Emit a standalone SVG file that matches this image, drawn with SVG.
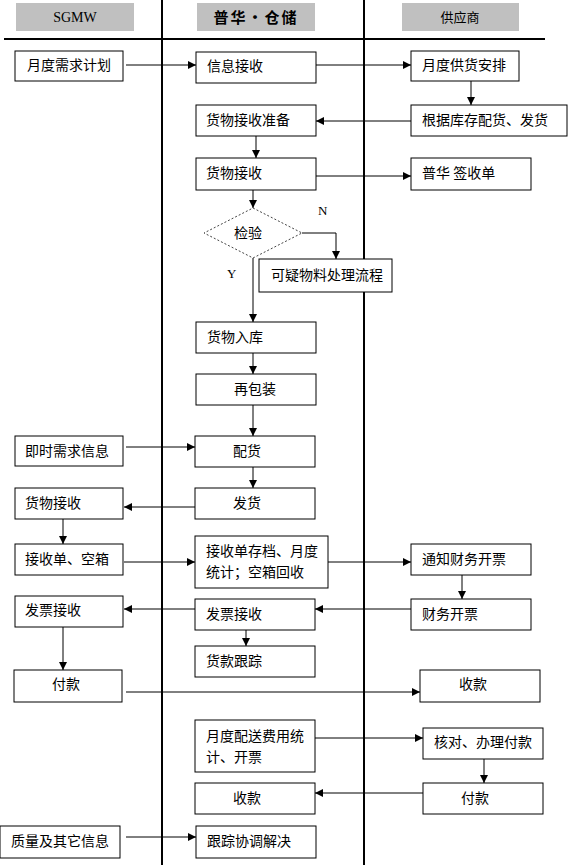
<svg xmlns="http://www.w3.org/2000/svg" width="568" height="868" viewBox="0 0 568 868">
<style>
.bg{fill:#ffffff}
.hdr{fill:#c0c0c0;stroke:none}
.lane{stroke:#000;stroke-width:2;fill:none}
.box{fill:#fff;stroke:#000;stroke-width:1}
.dia{fill:#fff;stroke:#444;stroke-width:1;stroke-dasharray:2,2}
.t{font-family:"Noto Sans CJK SC","Liberation Sans",sans-serif;font-size:14px;fill:#000}
.c{text-anchor:middle}
.s{font-family:"Liberation Serif",serif;font-size:13px;fill:#000}
.ln{stroke:#000;stroke-width:1;fill:none}
</style>
<defs>
<marker id="ah" viewBox="0 0 8 8" refX="8" refY="4" markerWidth="8" markerHeight="8" markerUnits="userSpaceOnUse" orient="auto">
<path d="M0,0 L8,4 L0,8 z" fill="#000"/>
</marker>
</defs>
<rect class="bg" x="0" y="0" width="568" height="868"/>

<g id="lanes">
<rect class="hdr" x="16" y="3" width="118" height="28"/>
<text class="s c" x="75" y="22" fill="#333" style="font-size:14px">SGMW</text>
<rect class="hdr" x="197" y="3" width="118" height="28"/>
<text class="t c" x="256" y="23" style="font-size:15px;font-weight:bold;letter-spacing:2px">普华·仓储</text>
<rect class="hdr" x="402" y="3" width="117" height="28"/>
<text class="t c" x="460" y="22" style="font-size:13px">供应商</text>
<line class="lane" x1="4" y1="39" x2="545" y2="39"/>
<line class="lane" x1="162" y1="0" x2="162" y2="865"/>
<line class="lane" x1="364" y1="0" x2="364" y2="865"/>
</g>

<g id="connectors">
<line class="ln" x1="126" y1="65" x2="196" y2="65" marker-end="url(#ah)"/>
<line class="ln" x1="316" y1="65" x2="411" y2="65" marker-end="url(#ah)"/>
<line class="ln" x1="471" y1="81" x2="471" y2="105" marker-end="url(#ah)"/>
<line class="ln" x1="411" y1="121" x2="316" y2="121" marker-end="url(#ah)"/>
<line class="ln" x1="256" y1="136" x2="256" y2="158" marker-end="url(#ah)"/>
<line class="ln" x1="316" y1="176" x2="411" y2="176" marker-end="url(#ah)"/>
<line class="ln" x1="253" y1="190" x2="253" y2="208" marker-end="url(#ah)"/>
<polyline class="ln" points="302,233 336,233 336,259" marker-end="url(#ah)"/>
<line class="ln" x1="253" y1="258" x2="253" y2="322" marker-end="url(#ah)"/>
<line class="ln" x1="253" y1="353" x2="253" y2="374" marker-end="url(#ah)"/>
<line class="ln" x1="253" y1="405" x2="253" y2="436" marker-end="url(#ah)"/>
<line class="ln" x1="126" y1="447" x2="195" y2="447" marker-end="url(#ah)"/>
<line class="ln" x1="253" y1="467" x2="253" y2="488" marker-end="url(#ah)"/>
<line class="ln" x1="195" y1="507" x2="124" y2="507" marker-end="url(#ah)"/>
<line class="ln" x1="63" y1="519" x2="63" y2="544" marker-end="url(#ah)"/>
<line class="ln" x1="124" y1="562" x2="195" y2="562" marker-end="url(#ah)"/>
<line class="ln" x1="328" y1="562" x2="411" y2="562" marker-end="url(#ah)"/>
<line class="ln" x1="462" y1="575" x2="462" y2="599" marker-end="url(#ah)"/>
<line class="ln" x1="411" y1="609" x2="315" y2="609" marker-end="url(#ah)"/>
<line class="ln" x1="195" y1="609" x2="124" y2="609" marker-end="url(#ah)"/>
<line class="ln" x1="63" y1="627" x2="63" y2="670" marker-end="url(#ah)"/>
<line class="ln" x1="246" y1="630" x2="246" y2="646" marker-end="url(#ah)"/>
<line class="ln" x1="126" y1="692" x2="420" y2="692" marker-end="url(#ah)"/>
<line class="ln" x1="315" y1="738" x2="423" y2="738" marker-end="url(#ah)"/>
<line class="ln" x1="484" y1="759" x2="484" y2="783" marker-end="url(#ah)"/>
<line class="ln" x1="423" y1="793" x2="315" y2="793" marker-end="url(#ah)"/>
<line class="ln" x1="126" y1="837" x2="196" y2="837" marker-end="url(#ah)"/>
</g>

<g id="n_yuedu_xuqiu"><rect class="box" x="15" y="51" width="108" height="30"/><text class="t" x="27" y="70">月度需求计划</text></g>
<g id="n_xinxi_jieshou"><rect class="box" x="196" y="52" width="120" height="31"/><text class="t" x="207" y="71">信息接收</text></g>
<g id="n_yuedu_gonghuo"><rect class="box" x="411" y="51" width="108" height="30"/><text class="t" x="422" y="70">月度供货安排</text></g>
<g id="n_genju_kucun"><rect class="box" x="411" y="105" width="156" height="31"/><text class="t" x="422" y="125">根据库存配货、发货</text></g>
<g id="n_huowu_zhunbei"><rect class="box" x="196" y="105" width="120" height="31"/><text class="t" x="206" y="125">货物接收准备</text></g>
<g id="n_huowu_jieshou"><rect class="box" x="196" y="158" width="120" height="32"/><text class="t" x="206" y="178">货物接收</text></g>
<g id="n_puhua_qianshou"><rect class="box" x="411" y="158" width="120" height="32"/><text class="t" x="422" y="178">普华 签收单</text></g>
<g id="n_jianyan"><polygon class="dia" points="253,208 302,233 253,258 204,233"/><text class="t c" x="248" y="238">检验</text></g>
<g id="n_keyi"><rect class="box" x="259" y="259" width="133" height="33"/><text class="t" x="271" y="280">可疑物料处理流程</text></g>
<g id="lbl_N"><text class="s" x="318" y="215">N</text></g>
<g id="lbl_Y"><text class="s" x="227" y="278">Y</text></g>
<g id="n_ruku"><rect class="box" x="196" y="322" width="120" height="31"/><text class="t" x="207" y="342">货物入库</text></g>
<g id="n_baozhuang"><rect class="box" x="196" y="374" width="120" height="31"/><text class="t c" x="255" y="394">再包装</text></g>
<g id="n_jishi"><rect class="box" x="15" y="436" width="108" height="30"/><text class="t" x="25" y="456">即时需求信息</text></g>
<g id="n_peihuo"><rect class="box" x="195" y="436" width="120" height="31"/><text class="t c" x="247" y="456">配货</text></g>
<g id="n_fahuo"><rect class="box" x="195" y="488" width="120" height="31"/><text class="t c" x="247" y="508">发货</text></g>
<g id="n_sgmw_jieshou"><rect class="box" x="15" y="488" width="108" height="31"/><text class="t" x="25" y="508">货物接收</text></g>
<g id="n_jieshoudan"><rect class="box" x="15" y="544" width="108" height="31"/><text class="t" x="25" y="564">接收单、空箱</text></g>
<g id="n_cundang"><rect class="box" x="195" y="536" width="133" height="52"/><text class="t" x="206" y="556">接收单存档、月度</text><text class="t" x="206" y="577">统计；空箱回收</text></g>
<g id="n_tongzhi"><rect class="box" x="411" y="544" width="120" height="31"/><text class="t" x="422" y="564">通知财务开票</text></g>
<g id="n_caiwu"><rect class="box" x="411" y="599" width="120" height="31"/><text class="t" x="422" y="619">财务开票</text></g>
<g id="n_fapiao_c"><rect class="box" x="195" y="599" width="120" height="31"/><text class="t" x="206" y="619">发票接收</text></g>
<g id="n_fapiao_l"><rect class="box" x="15" y="596" width="108" height="31"/><text class="t" x="25" y="615">发票接收</text></g>
<g id="n_huokuan"><rect class="box" x="195" y="646" width="120" height="31"/><text class="t" x="206" y="666">货款跟踪</text></g>
<g id="n_fukuan_l"><rect class="box" x="14" y="670" width="108" height="32"/><text class="t c" x="66" y="689">付款</text></g>
<g id="n_shoukuan_r"><rect class="box" x="420" y="670" width="120" height="32"/><text class="t c" x="473" y="689">收款</text></g>
<g id="n_peisong"><rect class="box" x="195" y="720" width="120" height="52"/><text class="t" x="206" y="741">月度配送费用统</text><text class="t" x="206" y="762">计、开票</text></g>
<g id="n_heduifukuan"><rect class="box" x="423" y="728" width="120" height="31"/><text class="t" x="434" y="747">核对、办理付款</text></g>
<g id="n_fukuan_r"><rect class="box" x="423" y="783" width="120" height="31"/><text class="t c" x="475" y="803">付款</text></g>
<g id="n_shoukuan_c"><rect class="box" x="195" y="783" width="120" height="31"/><text class="t c" x="247" y="803">收款</text></g>
<g id="n_zhiliang"><rect class="box" x="0" y="826" width="120" height="32"/><text class="t" x="11" y="846">质量及其它信息</text></g>
<g id="n_genzong"><rect class="box" x="196" y="826" width="120" height="32"/><text class="t" x="207" y="846">跟踪协调解决</text></g>
</svg>
